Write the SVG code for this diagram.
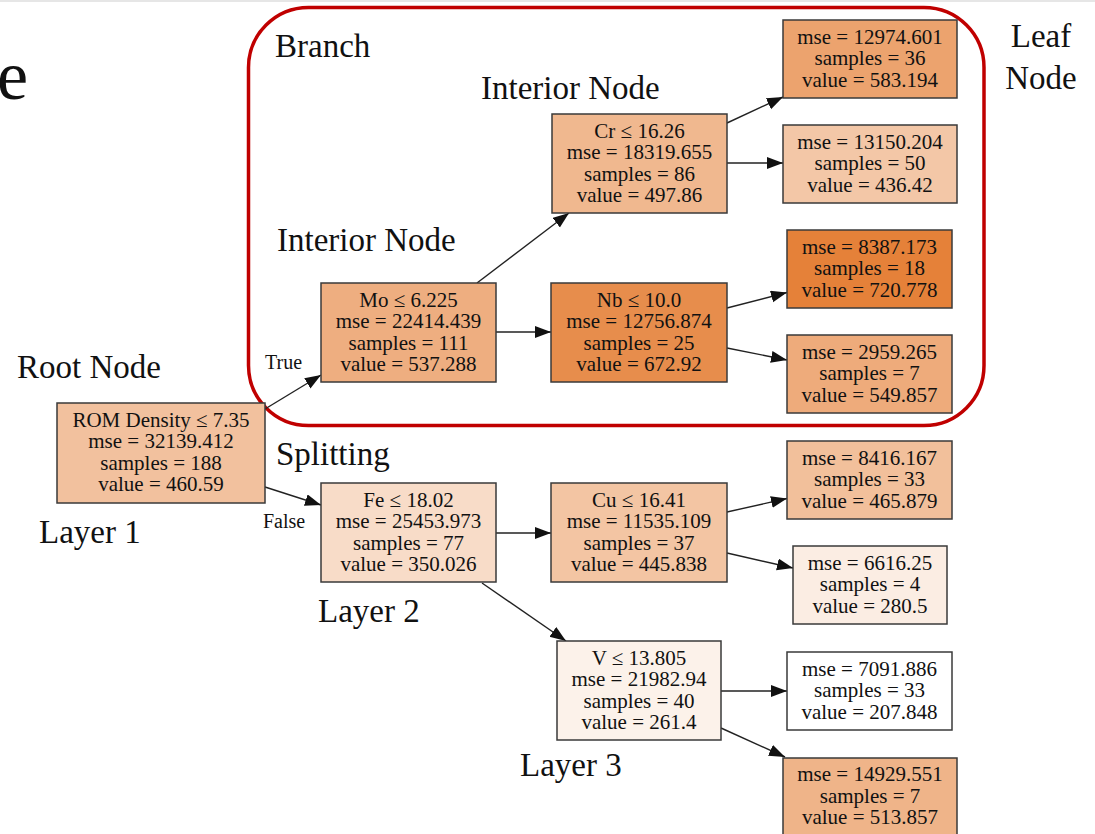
<svg xmlns="http://www.w3.org/2000/svg" width="1095" height="834" viewBox="0 0 1095 834">
<style>
  .nd rect { stroke: #3a3a3a; stroke-width: 1.5; }
  .nd text { font-family: "Liberation Serif", "Times New Roman", serif; font-size: 21px; fill: #111; text-anchor: middle; }
  .lbl { font-family: "Liberation Serif", "Times New Roman", serif; font-size: 33px; fill: #111; }
  .el { font-family: "Liberation Serif", "Times New Roman", serif; font-size: 20px; fill: #111; }
  .edge { stroke: #222; stroke-width: 1.4; fill: none; marker-end: url(#ah); }
</style>
<defs>
  <marker id="ah" markerUnits="userSpaceOnUse" markerWidth="18" markerHeight="13" refX="16" refY="6" orient="auto">
    <path d="M0,0 L16,6 L0,12 z" fill="#111"/>
  </marker>
</defs>
<rect x="0" y="0" width="1095" height="834" fill="#ffffff"/>
<rect x="0" y="0" width="1095" height="2" fill="#e6e6e6"/>

<rect id="branch-box" x="248.5" y="7.5" width="735.5" height="418" rx="60" ry="60" fill="none" stroke="#c00000" stroke-width="3.5"/>

<g id="labels">
  <text class="lbl" x="-3" y="99" style="font-size:70px">e</text>
  <text class="lbl" x="275" y="57">Branch</text>
  <text class="lbl" x="481" y="99">Interior Node</text>
  <text class="lbl" x="277" y="251">Interior Node</text>
  <text class="lbl" x="1041" y="47" text-anchor="middle">Leaf</text>
  <text class="lbl" x="1041" y="89" text-anchor="middle">Node</text>
  <text class="lbl" x="17" y="378">Root Node</text>
  <text class="lbl" x="276" y="465">Splitting</text>
  <text class="lbl" x="39" y="543">Layer 1</text>
  <text class="lbl" x="318" y="622">Layer 2</text>
  <text class="lbl" x="520" y="776">Layer 3</text>
</g>

<g id="connectors">
  <line class="edge" x1="265" y1="409" x2="321" y2="375"/>
  <line class="edge" x1="265" y1="487" x2="321" y2="505"/>
  <line class="edge" x1="477" y1="283" x2="569" y2="213"/>
  <line class="edge" x1="496" y1="332" x2="551" y2="332"/>
  <line class="edge" x1="727" y1="123" x2="783" y2="97"/>
  <line class="edge" x1="727" y1="163" x2="783" y2="163"/>
  <line class="edge" x1="727" y1="308" x2="787" y2="292.5"/>
  <line class="edge" x1="727" y1="348" x2="787" y2="360"/>
  <line class="edge" x1="496" y1="533" x2="551" y2="533"/>
  <line class="edge" x1="482" y1="583" x2="566" y2="641"/>
  <line class="edge" x1="727" y1="512" x2="787" y2="498.5"/>
  <line class="edge" x1="727" y1="553" x2="793" y2="568"/>
  <line class="edge" x1="721" y1="691" x2="787" y2="691"/>
  <line class="edge" x1="721" y1="728" x2="785" y2="757"/>
  <text class="el" x="265" y="369">True</text>
  <text class="el" x="263" y="528">False</text>
</g>

<g id="n-root" class="nd">
  <rect x="57" y="403" width="208" height="100" fill="#f2c19e"/>
  <text x="161" y="426.5">ROM Density ≤ 7.35</text>
  <text x="161" y="448">mse = 32139.412</text>
  <text x="161" y="469.5">samples = 188</text>
  <text x="161" y="491">value = 460.59</text>
</g>
<g id="n-mo" class="nd">
  <rect x="321" y="283" width="175" height="99" fill="#eeae80"/>
  <text x="408.5" y="306.5">Mo ≤ 6.225</text>
  <text x="408.5" y="328">mse = 22414.439</text>
  <text x="408.5" y="349.5">samples = 111</text>
  <text x="408.5" y="371">value = 537.288</text>
</g>
<g id="n-cr" class="nd">
  <rect x="552" y="114" width="175" height="99" fill="#f0b88f"/>
  <text x="639.5" y="137.5">Cr ≤ 16.26</text>
  <text x="639.5" y="159">mse = 18319.655</text>
  <text x="639.5" y="180.5">samples = 86</text>
  <text x="639.5" y="202">value = 497.86</text>
</g>
<g id="n-leaf1" class="nd">
  <rect x="783" y="20" width="174" height="78" fill="#eca36e"/>
  <text x="870" y="43.5">mse = 12974.601</text>
  <text x="870" y="65">samples = 36</text>
  <text x="870" y="86.5">value = 583.194</text>
</g>
<g id="n-leaf2" class="nd">
  <rect x="783" y="125" width="174" height="78" fill="#f3c7a7"/>
  <text x="870" y="148.5">mse = 13150.204</text>
  <text x="870" y="170">samples = 50</text>
  <text x="870" y="191.5">value = 436.42</text>
</g>
<g id="n-nb" class="nd">
  <rect x="551" y="283" width="176" height="99" fill="#e78d4c"/>
  <text x="639" y="306.5">Nb ≤ 10.0</text>
  <text x="639" y="328">mse = 12756.874</text>
  <text x="639" y="349.5">samples = 25</text>
  <text x="639" y="371">value = 672.92</text>
</g>
<g id="n-leaf3" class="nd">
  <rect x="787" y="230" width="165" height="78" fill="#e58139"/>
  <text x="869.5" y="253.5">mse = 8387.173</text>
  <text x="869.5" y="275">samples = 18</text>
  <text x="869.5" y="296.5">value = 720.778</text>
</g>
<g id="n-leaf4" class="nd">
  <rect x="787" y="335" width="165" height="78" fill="#eeab7b"/>
  <text x="869.5" y="358.5">mse = 2959.265</text>
  <text x="869.5" y="380">samples = 7</text>
  <text x="869.5" y="401.5">value = 549.857</text>
</g>
<g id="n-fe" class="nd">
  <rect x="321" y="483" width="175" height="99" fill="#f8dcc8"/>
  <text x="408.5" y="506.5">Fe ≤ 18.02</text>
  <text x="408.5" y="528">mse = 25453.973</text>
  <text x="408.5" y="549.5">samples = 77</text>
  <text x="408.5" y="571">value = 350.026</text>
</g>
<g id="n-cu" class="nd">
  <rect x="551" y="483" width="176" height="99" fill="#f3c5a3"/>
  <text x="639" y="506.5">Cu ≤ 16.41</text>
  <text x="639" y="528">mse = 11535.109</text>
  <text x="639" y="549.5">samples = 37</text>
  <text x="639" y="571">value = 445.838</text>
</g>
<g id="n-leaf5" class="nd">
  <rect x="787" y="441" width="165" height="78" fill="#f2c09b"/>
  <text x="869.5" y="464.5">mse = 8416.167</text>
  <text x="869.5" y="486">samples = 33</text>
  <text x="869.5" y="507.5">value = 465.879</text>
</g>
<g id="n-leaf6" class="nd">
  <rect x="793" y="546" width="154" height="78" fill="#fbede3"/>
  <text x="870" y="569.5">mse = 6616.25</text>
  <text x="870" y="591">samples = 4</text>
  <text x="870" y="612.5">value = 280.5</text>
</g>
<g id="n-v" class="nd">
  <rect x="557" y="641" width="164" height="99" fill="#fcf2ea"/>
  <text x="639" y="664.5">V ≤ 13.805</text>
  <text x="639" y="686">mse = 21982.94</text>
  <text x="639" y="707.5">samples = 40</text>
  <text x="639" y="729">value = 261.4</text>
</g>
<g id="n-leaf7" class="nd">
  <rect x="787" y="652" width="165" height="78" fill="#ffffff"/>
  <text x="869.5" y="675.5">mse = 7091.886</text>
  <text x="869.5" y="697">samples = 33</text>
  <text x="869.5" y="718.5">value = 207.848</text>
</g>
<g id="n-leaf8" class="nd">
  <rect x="783" y="758" width="174" height="78" fill="#efb489"/>
  <text x="870" y="781">mse = 14929.551</text>
  <text x="870" y="802.5">samples = 7</text>
  <text x="870" y="824">value = 513.857</text>
</g>
</svg>
